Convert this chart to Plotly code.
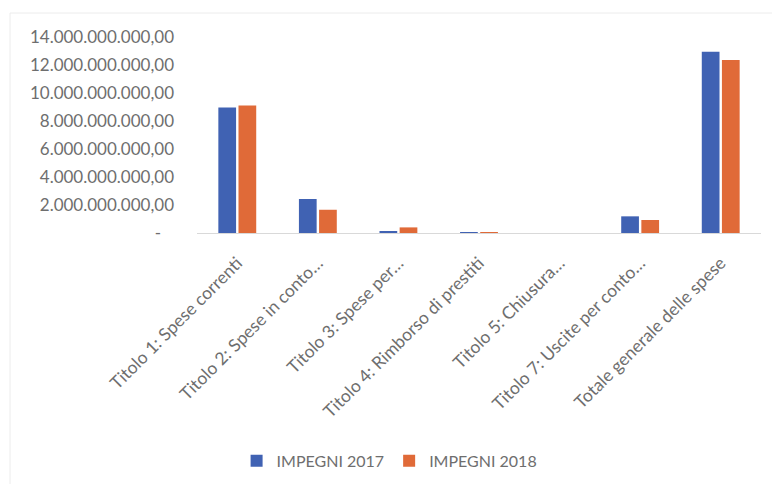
import plotly.graph_objects as go

categories = [
    "Titolo 1: Spese correnti",
    "Titolo 2: Spese in conto…",
    "Titolo 3: Spese per…",
    "Titolo 4: Rimborso di prestiti",
    "Titolo 5: Chiusura…",
    "Titolo 7: Uscite per conto…",
    "Totale generale delle spese",
]
impegni_2017 = [8.97e9, 2.43e9, 0.11e9, 0.05e9, 0.0, 1.19e9, 12.95e9]
impegni_2018 = [9.11e9, 1.66e9, 0.40e9, 0.04e9, 0.0, 0.93e9, 12.36e9]

y_tick_values = [0, 2e9, 4e9, 6e9, 8e9, 10e9, 12e9, 14e9]
y_tick_labels = [
    "-\u00a0\u00a0\u00a0",
    "2.000.000.000,00",
    "4.000.000.000,00",
    "6.000.000.000,00",
    "8.000.000.000,00",
    "10.000.000.000,00",
    "12.000.000.000,00",
    "14.000.000.000,00",
]

FONT = "Lato, Carlito, Calibri, 'Open Sans', sans-serif"
GRAY = "#6e6e6e"

fig = go.Figure()
fig.add_trace(go.Bar(name="IMPEGNI 2017", x=categories, y=impegni_2017,
                     marker=dict(color="#4062B3", line=dict(width=0))))
fig.add_trace(go.Bar(name="IMPEGNI 2018", x=categories, y=impegni_2018,
                     marker=dict(color="#E06A38", line=dict(width=0))))

fig.update_layout(
    width=773, height=485,
    margin=dict(l=197, r=12, t=37, b=252),
    paper_bgcolor="white", plot_bgcolor="white",
    barmode="group", bargap=0.5, bargroupgap=0.12,
    font=dict(family=FONT, color=GRAY, size=16),
    showlegend=True,
    legend=dict(orientation="h", xref="container", yref="container",
                x=0.504, xanchor="center", y=0.05, yanchor="middle",
                font=dict(size=16, color=GRAY), itemwidth=30,
                traceorder="normal"),
)
fig.update_xaxes(
    tickangle=-45, showgrid=False, showline=True, linecolor="#d9d9d9",
    linewidth=1, ticks="", ticklabelstandoff=12,
    tickfont=dict(size=17.5, color=GRAY),
)
fig.update_yaxes(
    range=[0, 14e9], tickvals=y_tick_values, ticktext=y_tick_labels,
    showgrid=False, zeroline=False, showline=False, ticks="",
    ticklabelstandoff=22, tickfont=dict(size=17, color=GRAY),
)
# faint chart frame
fig.add_shape(type="line", xref="paper", yref="paper",
              x0=(10 - 197) / 564, x1=(10 - 197) / 564,
              y0=(233 - 484) / 196, y1=(233 - 13) / 196,
              line=dict(color="#ececec", width=1))
fig.add_shape(type="line", xref="paper", yref="paper",
              x0=(10 - 197) / 564, x1=(772 - 197) / 564,
              y0=(233 - 13) / 196, y1=(233 - 13) / 196,
              line=dict(color="#ececec", width=1))

fig.write_html("out.html", config={"displayModeBar": False},
               post_script="document.body.style.margin='0';")
